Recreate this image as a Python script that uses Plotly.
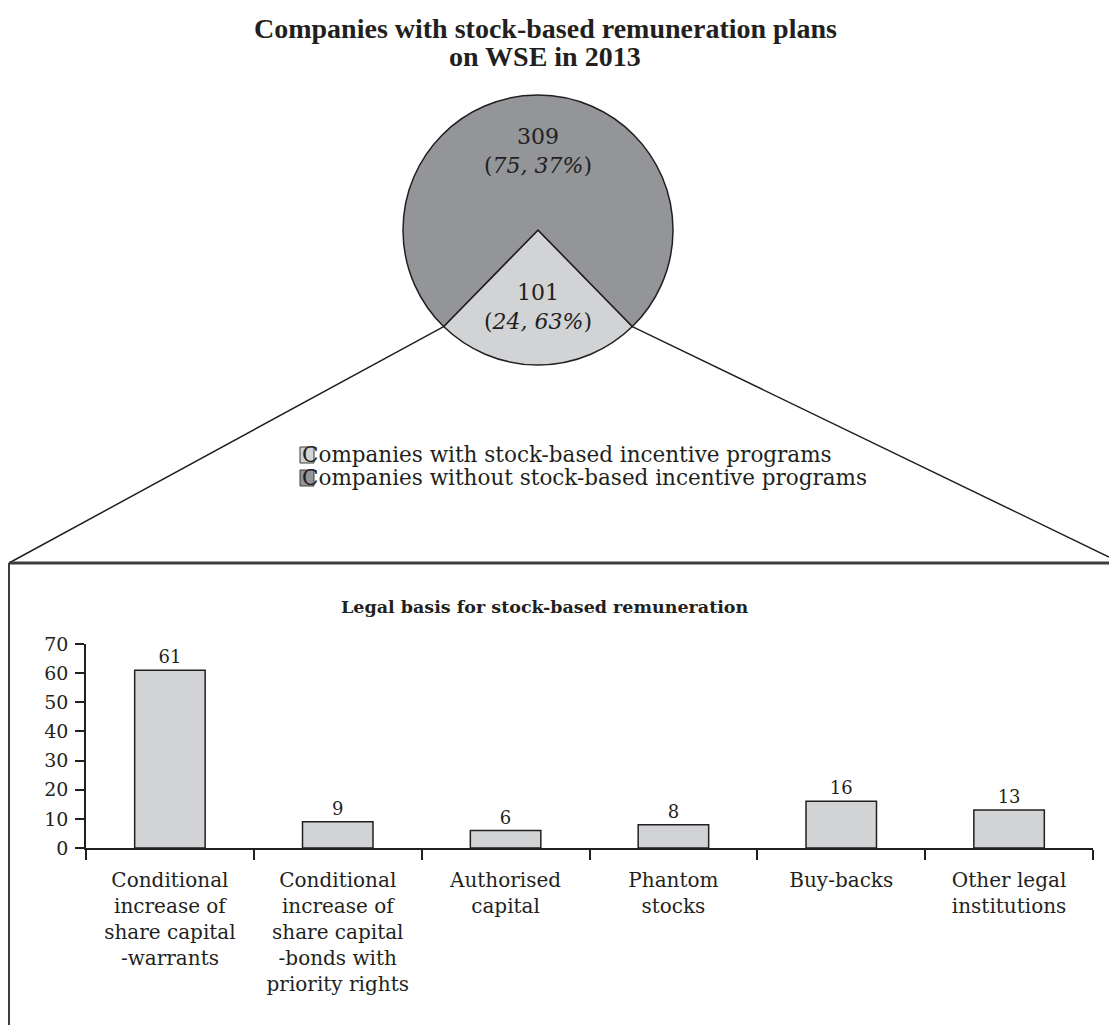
import math
import plotly.graph_objects as go

W, H = 1109, 1025

# Pie: companies listed on WSE in 2013
pie_labels = ["Companies with stock-based incentive programs",
              "Companies without stock-based incentive programs"]
pie_values = [101, 309]
pie_notes = ["24, 63%", "75, 37%"]
pie_colors = ["#d1d3d4", "#939598"]

# Bars: legal basis for stock-based remuneration
bar_categories = [
    "Conditional<br>increase of<br>share capital<br>-warrants",
    "Conditional<br>increase of<br>share capital<br>-bonds with<br>priority rights",
    "Authorised<br>capital",
    "Phantom<br>stocks",
    "Buy-backs",
    "Other legal<br>institutions",
]
bar_values = [61, 9, 6, 8, 16, 13]
y_ticks = [0, 10, 20, 30, 40, 50, 60, 70]

INK = "#231f20"
SERIF = "DejaVu Serif"
TITLE_FONT = "Liberation Serif"


def px(x):
    return x / W


def py(y):
    return 1 - y / H


# pie geometry in pixels
cx, cy, r = 538, 230, 135
share = pie_values[0] / sum(pie_values)
rotation = 180 - share * 180          # centre the small slice at 6 o'clock
a1 = math.radians(rotation)
a2 = math.radians(rotation + share * 360)
edge_right = (cx + r * math.sin(a1), cy - r * math.cos(a1))
edge_left = (cx + r * math.sin(a2), cy - r * math.cos(a2))

fig = go.Figure()

fig.add_trace(go.Pie(
    labels=pie_labels,
    values=pie_values,
    sort=False,
    direction="clockwise",
    rotation=rotation,
    marker=dict(colors=pie_colors, line=dict(color=INK, width=1.5)),
    textinfo="none",
    hoverinfo="label+value",
    domain=dict(x=[px(cx - r), px(cx + r)], y=[py(cy + r), py(cy - r)]),
    showlegend=False,
))

fig.add_trace(go.Bar(
    x=bar_categories,
    y=bar_values,
    marker=dict(color="#d1d3d4", line=dict(color=INK, width=1.5)),
    texttemplate="%{y}",
    textposition="outside",
    textfont=dict(family=SERIF, size=18, color=INK),
    cliponaxis=False,
    showlegend=False,
    xaxis="x", yaxis="y",
))

# value labels inside the pie
for val, note, ty in [(pie_values[1], pie_notes[1], 151),
                      (pie_values[0], pie_notes[0], 307)]:
    fig.add_annotation(
        x=px(cx), y=py(ty), xref="paper", yref="paper",
        xanchor="center", yanchor="middle",
        text=f"{val}<br>(<i>{note}</i>)", showarrow=False,
        font=dict(family=SERIF, size=22, color=INK),
        align="center",
    )

# legend for the pie: coloured square with the label beside it
shapes = []
for i, (lab, col) in enumerate(zip(pie_labels, pie_colors)):
    ly = 455 + 23 * i
    shapes.append(dict(type="rect", xref="paper", yref="paper", layer="below",
                       x0=px(300), x1=px(314), y0=py(ly + 8), y1=py(ly - 8),
                       fillcolor=col, line=dict(color="#3d3d3d", width=1)))
    fig.add_annotation(
        x=px(300), y=py(ly), xref="paper", yref="paper",
        xanchor="left", yanchor="middle", showarrow=False,
        text=lab, font=dict(family=SERIF, size=21.5, color=INK),
    )

# main title, one annotation per line for tighter leading
for txt, ty in [("Companies with stock-based remuneration plans", 28),
                ("on WSE in 2013", 56)]:
    fig.add_annotation(
        x=px(545), y=py(ty), xref="paper", yref="paper",
        xanchor="center", yanchor="middle",
        text=f"<b>{txt}</b>", showarrow=False,
        font=dict(family=TITLE_FONT, size=28, color=INK),
    )
fig.add_annotation(
    x=px(545), y=py(607), xref="paper", yref="paper",
    xanchor="center", yanchor="middle",
    text="<b>Legal basis for stock-based remuneration</b>",
    showarrow=False, font=dict(family=SERIF, size=17.5, color=INK),
)

line_style = dict(color=INK, width=1.5)
shapes += [
    dict(type="line", xref="paper", yref="paper",
         x0=px(edge_left[0]), y0=py(edge_left[1]), x1=px(9), y1=py(563), line=line_style),
    dict(type="line", xref="paper", yref="paper",
         x0=px(edge_right[0]), y0=py(edge_right[1]), x1=px(1109), y1=py(557), line=line_style),
    dict(type="line", xref="paper", yref="paper",
         x0=px(9), y0=py(563), x1=1, y1=py(563), line=dict(color="#3d3d3d", width=3)),
    dict(type="line", xref="paper", yref="paper",
         x0=px(9), y0=py(563), x1=px(9), y1=0, line=dict(color="#3d3d3d", width=2)),
]

fig.update_layout(
    width=W, height=H,
    margin=dict(l=0, r=0, t=0, b=0, autoexpand=False),
    paper_bgcolor="white", plot_bgcolor="white",
    font=dict(family=SERIF, size=18, color=INK),
    shapes=shapes,
    bargap=0.58,
    showlegend=False,
    xaxis=dict(
        domain=[px(86), px(1093)], anchor="y", automargin=False,
        showline=True, linecolor=INK, linewidth=1.5,
        ticks="outside", tickson="boundaries", ticklen=10, tickcolor=INK, tickwidth=1.5,
        showgrid=False, tickfont=dict(family=SERIF, size=20, color=INK),
        ticklabelstandoff=13,
        fixedrange=True,
    ),
    yaxis=dict(
        domain=[py(848), py(644)], anchor="x", automargin=False,
        range=[0, 70], tickvals=y_ticks,
        showline=True, linecolor=INK, linewidth=1.5,
        ticks="outside", ticklen=9, tickcolor=INK, tickwidth=1.5,
        showgrid=False, zeroline=False,
        tickfont=dict(family=SERIF, size=19, color=INK),
        ticklabelstandoff=3,
        fixedrange=True,
    ),
)

fig.write_html("out.html")
